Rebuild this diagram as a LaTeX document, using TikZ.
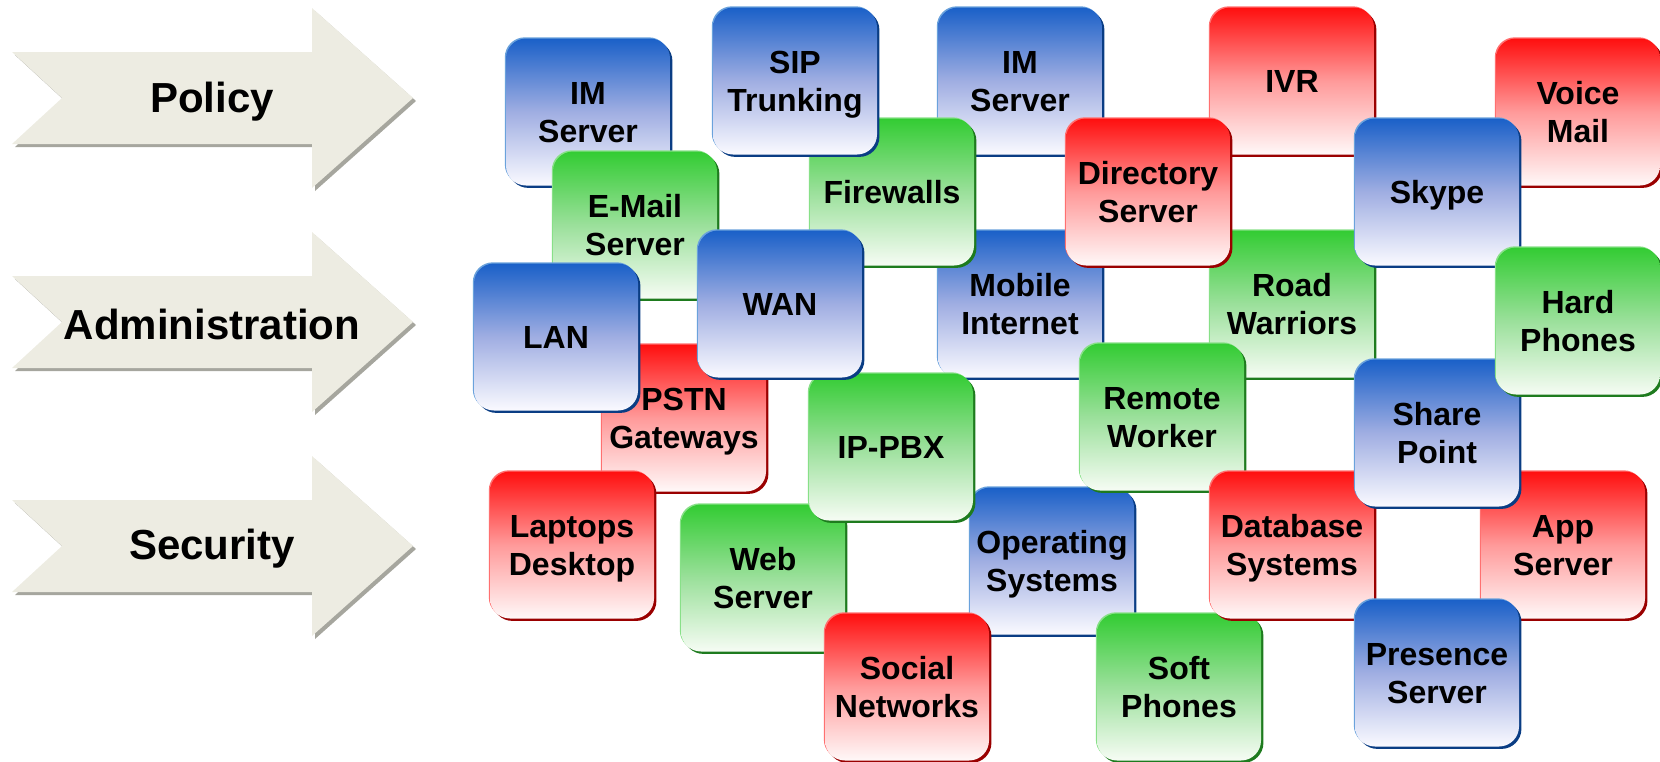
\documentclass[tikz,border=0pt]{standalone}
\usepackage{fontspec}
\setmainfont{Liberation Sans}
\usepackage{tikz}
\usetikzlibrary{shadows}

\definecolor{tileblue}{HTML}{1A60C8}
\definecolor{tilemidblue}{HTML}{A0AEE2}
\definecolor{tilepaleblue}{HTML}{FAFAFF}
\definecolor{tiledarkblue}{HTML}{0A3D84}
\definecolor{tilelightblue}{HTML}{6AA2DC}
\definecolor{tilered}{HTML}{FF0F0F}
\definecolor{tilemidred}{HTML}{FF9A9A}
\definecolor{tilepalered}{HTML}{FFF8F8}
\definecolor{tiledarkred}{HTML}{9A0000}
\definecolor{tilelightred}{HTML}{FF7070}
\definecolor{tilegreen}{HTML}{33CC33}
\definecolor{tilemidgreen}{HTML}{9BE09B}
\definecolor{tilepalegreen}{HTML}{F6FCF4}
\definecolor{tiledarkgreen}{HTML}{1E7B1E}
\definecolor{tilelightgreen}{HTML}{88E088}
\definecolor{bandfill}{HTML}{EDECE2}
\definecolor{bandshade}{HTML}{A6A69E}

\newcommand{\tilefont}{\fontsize{16}{19}\selectfont\bfseries}
\newcommand{\bandfont}{\fontsize{21}{25}\selectfont\bfseries}

\tikzset{
  tile/.style={rounded corners=10pt, minimum width=82pt, minimum height=73.5pt,
    inner sep=0pt, align=center, text depth=-2.5pt, font=\tilefont},
  bluetile/.style={tile,
    general shadow={fill=tiledarkblue, shadow xshift=1.2pt, shadow yshift=-1.2pt},
    general shadow={fill=tilelightblue, shadow xshift=-0.6pt, shadow yshift=0.6pt},
    top color=tileblue, bottom color=tilepaleblue, middle color=tilemidblue},
  redtile/.style={tile,
    general shadow={fill=tiledarkred, shadow xshift=1.2pt, shadow yshift=-1.2pt},
    general shadow={fill=tilelightred, shadow xshift=-0.6pt, shadow yshift=0.6pt},
    top color=tilered, bottom color=tilepalered, middle color=tilemidred},
  greentile/.style={tile,
    general shadow={fill=tiledarkgreen, shadow xshift=1.2pt, shadow yshift=-1.2pt},
    general shadow={fill=tilelightgreen, shadow xshift=-0.6pt, shadow yshift=0.6pt},
    top color=tilegreen, bottom color=tilepalegreen, middle color=tilemidgreen},
  band/.style={fill=bandfill,
    general shadow={fill=bandshade, shadow xshift=1.5pt, shadow yshift=-1.5pt}},
  bandtext/.style={font=\bandfont, inner sep=0pt}
}

\begin{document}
\begin{tikzpicture}[x=0.5pt, y=-0.5pt]
  \useasboundingbox (0,0) rectangle (1660,761);

  % the three arrows on the left
  \path[band] (12,52) -- (312,52) -- (312,8) -- (413,98) -- (312,188) -- (312,144)
    -- (12,144) -- (62,98) -- cycle;
  \node[bandtext] (policy) at (212,102) {Policy};

  \path[band] (12,276) -- (312,276) -- (312,232) -- (413,322) -- (312,412) -- (312,368)
    -- (12,368) -- (62,322) -- cycle;
  \node[bandtext] (admin) at (212,324) {Administration};

  \path[band] (12,500) -- (312,500) -- (312,456) -- (413,546) -- (312,636) -- (312,592)
    -- (12,592) -- (62,546) -- cycle;
  \node[bandtext] (security) at (212,549) {Security};

  % tiles, back to front
  \node[bluetile] (imserver) at (588,112) {IM\\Server};
  \node[bluetile] (imserverb) at (1020,81) {IM\\Server};
  \node[bluetile] (mobile) at (1020,304) {Mobile\\Internet};
  \node[greentile] (firewalls) at (892,192) {Firewalls};
  \node[bluetile] (siptrunk) at (795,81) {SIP\\Trunking};
  \node[greentile] (email) at (635,225) {E-Mail\\Server};
  \node[redtile] (ivr) at (1292,81) {IVR};
  \node[redtile] (voicemail) at (1578,112) {Voice\\Mail};
  \node[greentile] (roadwarriors) at (1292,304) {Road\\Warriors};
  \node[redtile] (directory) at (1148,192) {Directory\\Server};
  \node[bluetile] (skype) at (1437,192) {Skype};
  \node[redtile] (pstn) at (684,418) {PSTN\\Gateways};
  \node[bluetile] (opsys) at (1052,561) {Operating\\Systems};
  \node[greentile] (webserver) at (763,578) {Web\\Server};
  \node[greentile] (ippbx) at (891,447) {IP-PBX};
  \node[bluetile] (lan) at (556,337) {LAN};
  \node[bluetile] (wan) at (780,304) {WAN};
  \node[redtile] (laptops) at (572,545) {Laptops\\Desktop};
  \node[redtile] (social) at (907,687) {Social\\Networks};
  \node[greentile] (softphones) at (1179,687) {Soft\\Phones};
  \node[greentile] (remote) at (1162,417) {Remote\\Worker};
  \node[redtile] (database) at (1292,545) {Database\\Systems};
  \node[redtile] (appserver) at (1563,545) {App\\Server};
  \node[bluetile] (sharepoint) at (1437,433) {Share\\Point};
  \node[greentile] (hardphones) at (1578,321) {Hard\\Phones};
  \node[bluetile] (presence) at (1437,673) {Presence\\Server};
\end{tikzpicture}
\end{document}
